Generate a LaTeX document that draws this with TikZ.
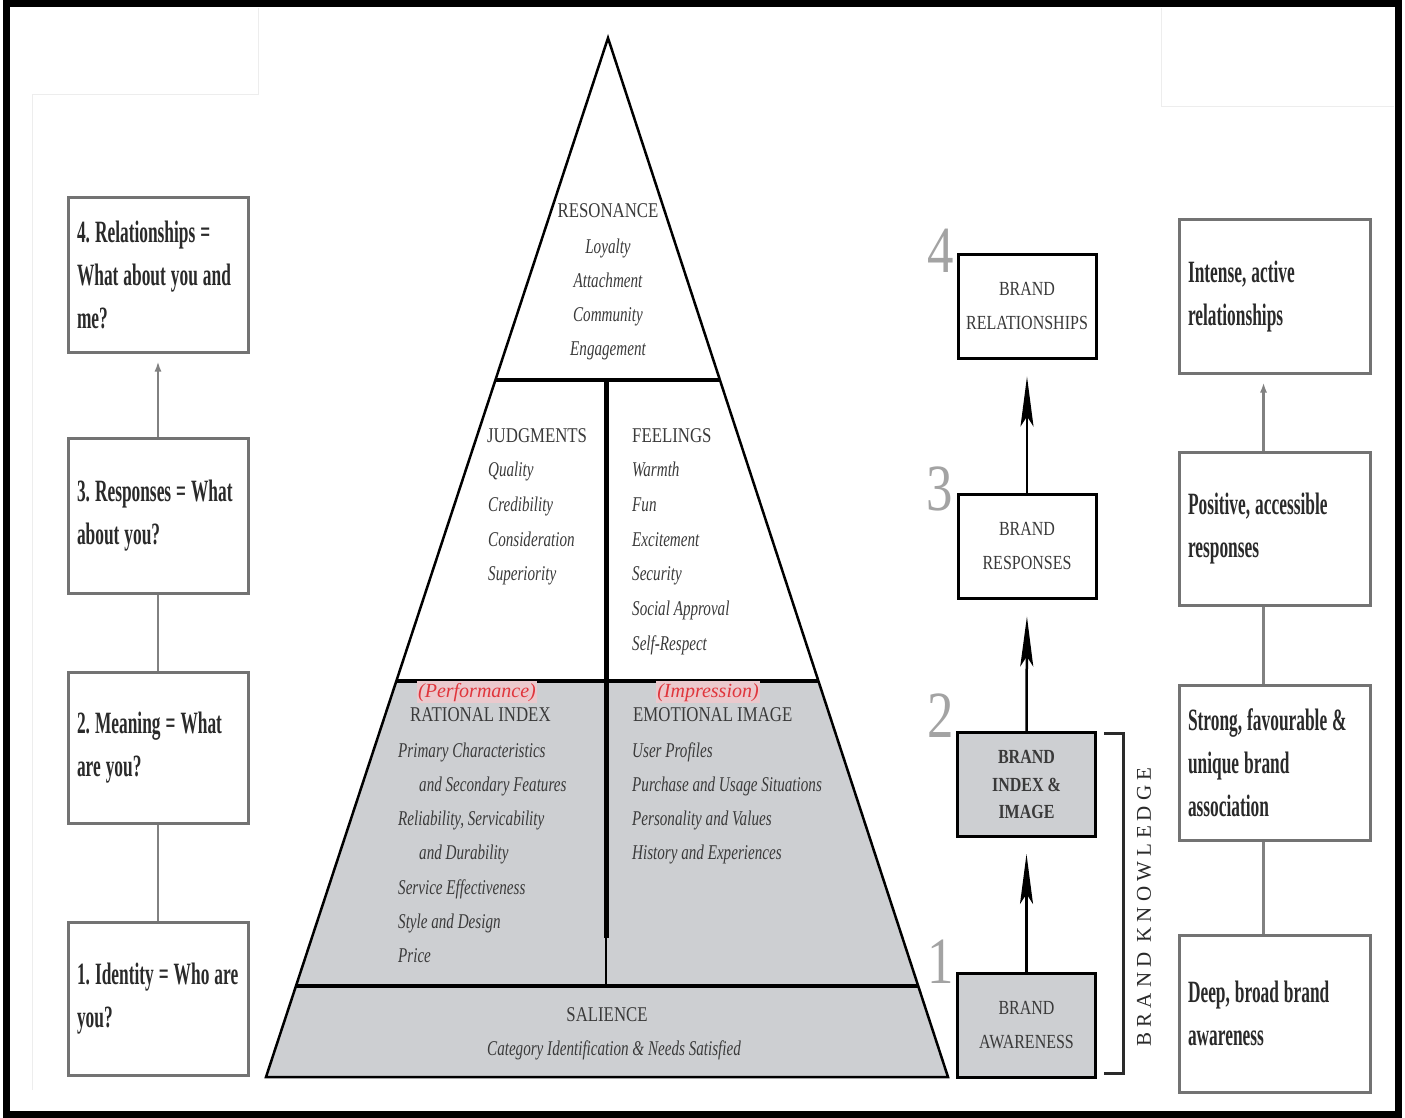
\documentclass[tikz,border=0pt]{standalone}
\usepackage{fontspec}
\setmainfont{Liberation Serif}
\newfontfamily\pyrfont[FakeStretch=0.8]{Liberation Serif}
\newfontfamily\itfont[FakeStretch=0.72]{Liberation Serif}
\newfontfamily\condfont[FakeStretch=0.56]{Liberation Serif}
\newfontfamily\spacedfont[LetterSpace=24]{Liberation Serif}
\DeclareRobustCommand\tightsp{\frenchspacing\spaceskip=5pt plus 1pt minus 1pt\xspaceskip=5pt plus 1pt minus 1pt\relax}
\usetikzlibrary{arrows.meta,calc}
\definecolor{pyrgray}{HTML}{CDCFD2}
\definecolor{txt}{HTML}{3A3A3A}
\definecolor{numgray}{HTML}{A3A3A3}
\definecolor{boxline}{HTML}{737373}
\definecolor{redtxt}{HTML}{E0353C}
\definecolor{pinkhalo}{HTML}{EBC9CD}
\definecolor{dtxt}{HTML}{2A2A2A}
\tikzset{
  capt/.style={font=\pyrfont\fontsize{21}{25}\selectfont, text=txt, inner sep=0pt, text height=15pt, text depth=4pt},
  itx/.style={font=\itfont\itshape\fontsize{21}{25}\selectfont, text=txt, inner sep=0pt, text height=15pt, text depth=5pt},
  redx/.style={font=\itshape\fontsize{20}{24}\selectfont, text=redtxt, fill=pinkhalo, inner sep=1pt, text height=15pt, text depth=5pt},
  sidebox/.style={draw=boxline, line width=3pt, fill=white, inner xsep=9pt, inner ysep=0pt, align=left,
    font=\condfont\bfseries\fontsize{31}{43}\selectfont, execute at begin node=\tightsp, text=dtxt},
  lbox/.style={sidebox, text width=162pt},
  rbox/.style={sidebox, text width=173pt},
  conn/.style={draw=boxline!90, line width=2.5pt},
  brandbox/.style={draw=black, line width=3pt, minimum width=138pt, minimum height=104pt, inner sep=0pt,
    align=center, font=\pyrfont\fontsize{20}{34}\selectfont, text=txt},
  bignum/.style={font=\pyrfont\fontsize{66}{70}\selectfont, text=numgray, inner sep=0pt},
  bigarrow/.style={draw=black, line width=2.5pt, -{Stealth[length=50pt,width=13pt,inset=10pt]}},
  faint/.style={draw=gray!14, line width=1pt}
}
\begin{document}
\begin{tikzpicture}[x=1pt,y=-1pt]
\useasboundingbox (0,0) rectangle (1405,1118);
\fill[white] (0,0) rectangle (1405,1118);
% faint pasted-panel edges
\draw[faint] (258,8) -- (258,95) -- (32,95) -- (32,1090);
\draw[faint] (1161,8) -- (1161,107) -- (1394,107);
% outer frame
\draw[line width=7pt] (6,4) rectangle (1398,1114);

% ---------- pyramid ----------
\coordinate (apex) at (608,38);
\coordinate (bl) at (266,1077);
\coordinate (br) at (948,1077);
\coordinate (l1) at ($(apex)!{(380-38)/1039}!(bl)$);
\coordinate (r1) at ($(apex)!{(380-38)/1039}!(br)$);
\coordinate (l2) at ($(apex)!{(681-38)/1039}!(bl)$);
\coordinate (r2) at ($(apex)!{(681-38)/1039}!(br)$);
\coordinate (l3) at ($(apex)!{(986-38)/1039}!(bl)$);
\coordinate (r3) at ($(apex)!{(986-38)/1039}!(br)$);
\fill[pyrgray] (l2) -- (r2) -- (br) -- (bl) -- cycle;
\draw[line width=2.5pt, line join=miter] (apex) -- (br) -- (bl) -- cycle;
\draw[line width=4pt] (l1) -- (r1);
\draw[line width=4pt] (l2) -- (r2);
\draw[line width=4pt] (l3) -- (r3);
\draw[line width=5pt] (606,382) -- (606,938);
\draw[line width=2pt] (606,938) -- (606,986);

% resonance
\node[capt] (reso) at (608,212) {RESONANCE};
\foreach \t [count=\i] in {Loyalty,Attachment,Community,Engagement}
  \node[itx] (reso\i) at (608,214+34.2*\i) {\t};

% judgments
\node[capt, anchor=west] (judg) at (487,437) {JUDGMENTS};
\foreach \t [count=\i] in {Quality,Credibility,Consideration,Superiority}
  \node[itx, anchor=west] (judg\i) at (488,437+34.7*\i) {\t};

% feelings
\node[capt, anchor=west] (feel) at (632,437) {FEELINGS};
\foreach \t [count=\i] in {Warmth,Fun,Excitement,Security,Social Approval,Self-Respect}
  \node[itx, anchor=west] (feel\i) at (632,437+34.7*\i) {\t};

% rational index
\node[redx] (perf) at (477,692) {(Performance)};
\node[capt, anchor=west] (rat) at (410,716) {RATIONAL INDEX};
\foreach \xx/\t [count=\i] in {398/Primary Characteristics,419/and Secondary Features,398/{Reliability, Servicability},419/and Durability,398/Service Effectiveness,398/Style and Design,398/Price}
  \node[itx, anchor=west] (rat\i) at (\xx,752+34.3*\i-34.3) {\t};

% emotional image
\node[redx] (impr) at (708,692) {(Impression)};
\node[capt, anchor=west] (emo) at (633,716) {EMOTIONAL IMAGE};
\foreach \t [count=\i] in {User Profiles,Purchase and Usage Situations,Personality and Values,History and Experiences}
  \node[itx, anchor=west] (emo\i) at (632,752+34.3*\i-34.3) {\t};

% salience
\node[capt] (sal) at (607,1016) {SALIENCE};
\node[itx] (sal1) at (614,1050) {Category Identification \& Needs Satisfied};

% ---------- brand boxes ----------
\node[brandbox, fill=white] (b4) at (1027,306) {BRAND\\RELATIONSHIPS};
\node[brandbox, fill=white] (b3) at (1027,546) {BRAND\\RESPONSES};
\node[brandbox, fill=pyrgray, font=\pyrfont\bfseries\fontsize{20}{27.5}\selectfont] (b2) at (1026.5,784.5) {BRAND\\INDEX \&\\IMAGE};
\node[brandbox, fill=pyrgray] (b1) at (1026.5,1025) {BRAND\\AWARENESS};
\draw[bigarrow, shorten >=17pt] (b3.north) -- (b4.south);
\draw[bigarrow, shorten >=17pt] (b2.north) -- (b3.south);
\draw[bigarrow, shorten >=16pt] (b1.north) -- (b2.south);

\node[bignum] (n4) at (941,251) {4};
\node[bignum] (n3) at (940,489) {3};
\node[bignum] (n2) at (941,716) {2};
\node[bignum] (n1) at (941,962) {1};

% bracket
\draw[line width=3pt, draw=dtxt] (1104,733) -- (1123,733) -- (1123,1073) -- (1104,1073);
\node[rotate=90, font=\spacedfont\fontsize{21}{24}\selectfont, text=dtxt, inner sep=0pt] (bk) at (1144,907) {BRAND KNOWLEDGE};

% ---------- left boxes ----------
\node[lbox, minimum height=154pt] (q4) at (158,275) {\mbox{4. Relationships =}\\\mbox{What about you and}\\me?};
\node[lbox, minimum height=155pt] (q3) at (158,515.5) {\mbox{3. Responses = What}\\about you?};
\node[lbox, minimum height=151pt] (q2) at (158,747.5) {\mbox{2. Meaning = What}\\are you?};
\node[lbox, minimum height=153pt] (q1) at (158,998.5) {\mbox{1. Identity = Who are}\\you?};
\draw[conn] (q1.north) -- (q2.south);
\draw[conn] (q2.north) -- (q3.south);
\draw[conn, -{Latex[length=10pt,width=7pt]}, shorten >=8pt] (q3.north) -- (q4.south);

% ---------- right boxes ----------
\node[rbox, minimum height=153pt] (s4) at (1274.5,296.5) {Intense, active\\relationships};
\node[rbox, minimum height=153pt] (s3) at (1274.5,528.5) {\mbox{Positive, accessible}\\responses};
\node[rbox, minimum height=155pt] (s2) at (1274.5,762.5) {\mbox{Strong, favourable \&}\\unique brand\\association};
\node[rbox, minimum height=157pt] (s1) at (1274.5,1013.5) {\mbox{Deep, broad brand}\\awareness};
\draw[conn] ([xshift=-11pt]s1.north) -- ([xshift=-11pt]s2.south);
\draw[conn] ([xshift=-11pt]s2.north) -- ([xshift=-11pt]s3.south);
\draw[conn, -{Latex[length=10pt,width=7pt]}, shorten >=8pt] ([xshift=-11pt]s3.north) -- ([xshift=-11pt]s4.south);
\end{tikzpicture}
\end{document}
